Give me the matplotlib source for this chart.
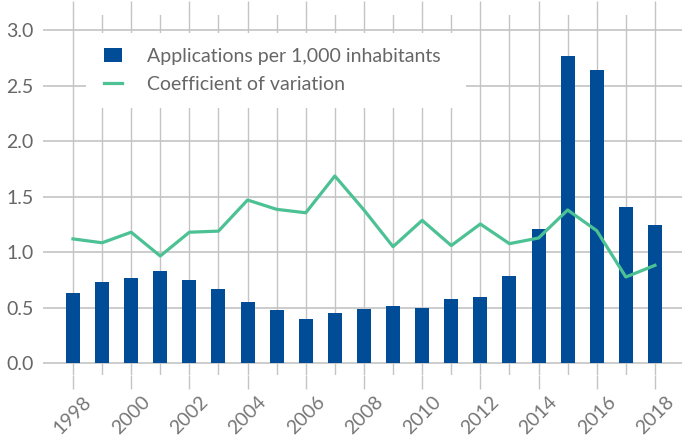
import matplotlib
matplotlib.use("Agg")
import matplotlib.pyplot as plt
import matplotlib.ticker as ticker
from matplotlib.patches import Rectangle

# Data
years = list(range(1998, 2019))
applications = [0.63, 0.73, 0.77, 0.83, 0.75, 0.67, 0.55, 0.48, 0.40, 0.45,
                0.49, 0.515, 0.50, 0.58, 0.60, 0.79, 1.205, 2.77, 2.64, 1.41, 1.245]
coef_variation = [1.12, 1.085, 1.18, 0.966, 1.18, 1.19, 1.47, 1.386, 1.355, 1.686,
                  1.38, 1.05, 1.287, 1.06, 1.254, 1.077, 1.128, 1.38, 1.194, 0.777, 0.882]
yticks = [0.0, 0.5, 1.0, 1.5, 2.0, 2.5, 3.0]

bar_color = "#004c97"
line_color = "#4cc194"
grid_color = "#c4c4c4"
text_color = "#666666"

plt.rcParams["font.family"] = ["Lato", "DejaVu Sans"]

fig = plt.figure(figsize=(6.82, 4.43), dpi=100)
ax = fig.add_axes([43 / 682, 68 / 443, 1 - 43 / 682, 360 / 443])

bars = ax.bar(years, applications, width=0.48, color=bar_color, zorder=2)
line, = ax.plot(years, coef_variation, color=line_color, lw=2.3, zorder=3)

ax.set_xlim(1996.97, 2018.93)
ax.set_ylim(-0.105, 3.135)

# Ticks: long ticks on even years, plain gridlines on odd years
ax.set_xticks(years[::2])
ax.set_xticks(years[1::2], minor=True)
ax.xaxis.set_major_formatter(ticker.FormatStrFormatter("%d"))
ax.set_yticks(yticks)
ax.yaxis.set_major_formatter(ticker.FormatStrFormatter("%.1f"))

ax.tick_params(axis="x", which="major", top=True, bottom=True, direction="out",
               length=10, width=1, color=grid_color, labelsize=14,
               labelcolor="#777777", pad=3)
ax.tick_params(axis="x", which="minor", top=False, bottom=False, length=0)
ax.tick_params(axis="y", which="both", length=0, labelsize=14,
               labelcolor=text_color, pad=7)
for lbl in ax.get_xticklabels():
    lbl.set_rotation(45)
    lbl.set_ha("center")

ax.grid(True, axis="x", which="both", color=grid_color, lw=1, zorder=0)
ax.grid(True, axis="y", which="major", color=grid_color, lw=1.2, zorder=0)
ax.set_axisbelow(True)

for s in ax.spines.values():
    s.set_visible(False)

# Legend on a white box
box = Rectangle((86 / 682, 1 - 108 / 443), 380 / 682, 75 / 443,
                transform=fig.transFigure, facecolor="white", edgecolor="none",
                zorder=4, clip_on=False)
ax.add_patch(box)
leg = ax.legend([bars, line],
                ["Applications per 1,000 inhabitants", "Coefficient of variation"],
                loc="upper left", bbox_to_anchor=(104 / 682, 1 - 48 / 443),
                bbox_transform=fig.transFigure, frameon=False,
                fontsize=14, labelcolor=text_color, handlelength=0.9,
                handleheight=0.7, handletextpad=1.3, borderpad=0,
                borderaxespad=0, labelspacing=0.55)
leg.set_zorder(5)

fig.savefig("out.png", dpi=100)
